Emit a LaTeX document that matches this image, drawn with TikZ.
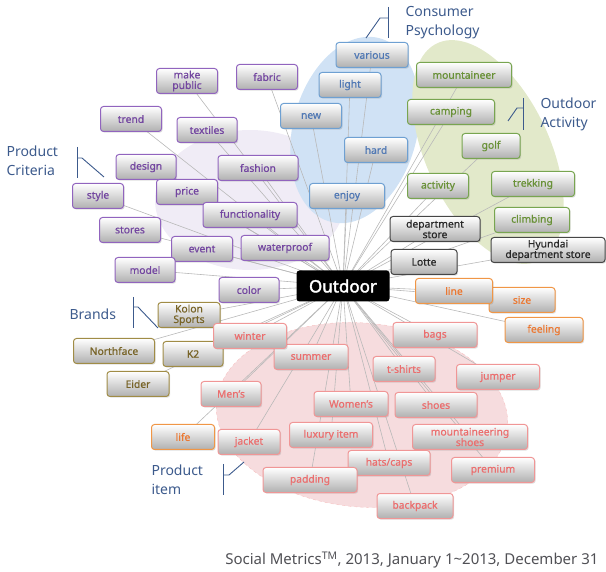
\documentclass[tikz,border=0pt]{standalone}
\usepackage{fontspec}
\setmainfont{Noto Sans}
\newfontfamily\tagfont{Noto Sans}[FakeBold=0.7]
\newfontfamily\hubfont{Noto Sans}[FakeBold=2.2]
\usetikzlibrary{shadows}
\definecolor{purpb}{RGB}{145,100,190}
\definecolor{purpt}{RGB}{115,70,160}
\definecolor{blueb}{RGB}{110,160,210}
\definecolor{bluet}{RGB}{80,120,180}
\definecolor{greenb}{RGB}{120,165,80}
\definecolor{greent}{RGB}{105,145,55}
\definecolor{oliveb}{RGB}{160,140,70}
\definecolor{olivet}{RGB}{120,100,40}
\definecolor{darkb}{RGB}{70,70,70}
\definecolor{darkt}{RGB}{40,40,40}
\definecolor{orangeb}{RGB}{240,150,70}
\definecolor{oranget}{RGB}{235,120,50}
\definecolor{pinkb}{RGB}{240,150,150}
\definecolor{pinkt}{RGB}{235,110,110}
\definecolor{labc}{RGB}{60,90,140}
\definecolor{footc}{RGB}{80,80,85}
\definecolor{blobblue}{RGB}{208,226,245}
\definecolor{blobgreen}{RGB}{226,233,202}
\definecolor{blobpink}{RGB}{246,220,222}
\definecolor{blobpurp}{RGB}{240,236,246}
\pgfdeclarelayer{blobs}
\pgfdeclarelayer{spokes}
\pgfsetlayers{blobs,spokes,main}
\begin{document}
\begin{tikzpicture}[x=1pt,y=-1pt,
	tag/.style={rounded corners=3pt,line width=1pt,top color=white,bottom color=gray!62,
		minimum height=25pt,inner sep=1pt,align=center,
		font=\tagfont\fontsize{10.3}{10.5}\selectfont,
		drop shadow={opacity=0.25,shadow xshift=1.2pt,shadow yshift=-1.2pt}},
	pc/.style={tag,draw=purpb,text=purpt},
	bc/.style={tag,draw=blueb,text=bluet},
	gc/.style={tag,draw=greenb,text=greent},
	yc/.style={tag,draw=oliveb,text=olivet},
	kc/.style={tag,draw=darkb,text=darkt},
	oc/.style={tag,draw=orangeb,text=oranget},
	rc/.style={tag,draw=pinkb,text=pinkt},
	hub/.style={rounded corners=3pt,fill=black,text=white,minimum width=93pt,minimum height=31pt,
		font=\hubfont\fontsize{17}{17}\selectfont},
	spoke/.style={draw=gray!55,line width=0.6pt},
	brk/.style={draw=labc,line width=0.9pt},
	cat/.style={text=labc,anchor=west,align=left,font=\fontsize{14}{19}\selectfont}]
	\useasboundingbox (0,0) rectangle (606,572);

	\begin{pgfonlayer}{blobs}
	\fill[blobpurp] (250,200) ellipse [x radius=95,y radius=70];
	\fill[blobblue,rotate around={-15:(355,130)}] (355,130) ellipse [x radius=62,y radius=95];
	\fill[blobgreen,rotate around={25:(488,152)}] (488,152) ellipse [x radius=62,y radius=120];
	\fill[blobpink,rotate around={-5:(362,415)}] (362,415) ellipse [x radius=146,y radius=92];
	\draw[pinkb!60,dashed,rotate around={-5:(362,415)}] (362,415) ellipse [x radius=146,y radius=92];
	\end{pgfonlayer}

	\node[hub] (out) at (343,286) {Outdoor};

	\node[pc,minimum width=61pt] (makepublic) at (187,81) {make\\public};
	\node[pc,minimum width=61pt] (fabric) at (267,77) {fabric};
	\node[pc,minimum width=61pt] (trend) at (131,119) {trend};
	\node[pc,minimum width=60pt] (textiles) at (207,130) {textiles};
	\node[pc,minimum width=60pt] (design) at (146,167) {design};
	\node[pc,minimum width=80pt] (fashion) at (258,168) {fashion};
	\node[pc,minimum width=51pt] (style) at (98,196) {style};
	\node[pc,minimum width=61pt] (price) at (187,192) {price};
	\node[pc,minimum width=94pt] (functionality) at (250,215) {functionality};
	\node[pc,minimum width=61pt] (stores) at (130,230) {stores};
	\node[pc,minimum width=61pt] (event) at (202,249) {event};
	\node[pc,minimum width=88pt] (waterproof) at (285,248) {waterproof};
	\node[pc,minimum width=60pt] (model) at (145,270) {model};
	\node[pc,minimum width=60pt] (color) at (249,290) {color};

	\node[bc,minimum width=72pt] (various) at (372,55) {various};
	\node[bc,minimum width=62pt] (light) at (350,85) {light};
	\node[bc,minimum width=61pt] (new) at (311,116) {new};
	\node[bc,minimum width=63pt] (hard) at (376,150) {hard};
	\node[bc,minimum width=75pt] (enjoy) at (347,196) {enjoy};

	\node[gc,minimum width=95pt] (mountaineer) at (464,75) {mountaineer};
	\node[gc,minimum width=87pt] (camping) at (451,112) {camping};
	\node[gc,minimum width=58pt] (golf) at (491,146) {golf};
	\node[gc,minimum width=61pt] (activity) at (438,186) {activity};
	\node[gc,minimum width=83pt] (trekking) at (533,184) {trekking};
	\node[gc,minimum width=75pt] (climbing) at (532,220) {climbing};

	\node[kc,minimum width=90pt] (deptstore) at (435,229) {department\\store};
	\node[kc,minimum width=114pt] (hyundai) at (548,250) {Hyundai\\department store};
	\node[kc,minimum width=66pt] (lotte) at (424,262) {Lotte};

	\node[oc,minimum width=66pt] (size) at (522,300) {size};
	\node[oc,minimum width=77pt] (line) at (454,291) {line};
	\node[oc,minimum width=78pt] (feeling) at (544,330) {feeling};
	\node[oc,minimum width=63pt] (life) at (183,437) {life};

	\node[yc,minimum width=62pt] (kolon) at (189,315) {Kolon\\Sports};
	\node[yc,minimum width=81pt] (northface) at (114,351) {Northface};
	\node[yc,minimum width=60pt] (ktwo) at (193,354) {K2};
	\node[yc,minimum width=62pt] (eider) at (138,384) {Eider};

	\node[rc,minimum width=74pt] (summer) at (311,357) {summer};
	\node[rc,minimum width=73pt] (winter) at (250,336) {winter};
	\node[rc,minimum width=84pt] (bags) at (435,335) {bags};
	\node[rc,minimum width=62pt] (tshirts) at (404,369) {t-shirts};
	\node[rc,minimum width=83pt] (jumper) at (498,377) {jumper};
	\node[rc,minimum width=60pt] (mens) at (231,394) {Men’s};
	\node[rc,minimum width=74pt] (womens) at (351,404) {Women’s};
	\node[rc,minimum width=82pt] (shoes) at (436,405) {shoes};
	\node[rc,minimum width=62pt] (jacket) at (249,442) {jacket};
	\node[rc,minimum width=83pt] (luxury) at (331,435) {luxury item};
	\node[rc,minimum width=115pt] (mshoes) at (470,437) {mountaineering\\shoes};
	\node[rc,minimum width=82pt] (hatscaps) at (389,463) {hats/caps};
	\node[rc,minimum width=83pt] (premium) at (493,470) {premium};
	\node[rc,minimum width=94pt] (padding) at (310,480) {padding};
	\node[rc,minimum width=76pt] (backpack) at (415,506) {backpack};

	\begin{pgfonlayer}{spokes}
	\foreach \n in {makepublic,fabric,trend,textiles,design,fashion,style,price,functionality,
		stores,event,waterproof,model,color,various,light,new,hard,enjoy,
		mountaineer,camping,golf,activity,trekking,climbing,deptstore,hyundai,lotte,
		size,line,feeling,life,kolon,northface,ktwo,eider,
		summer,winter,bags,tshirts,jumper,mens,womens,shoes,jacket,luxury,mshoes,
		hatscaps,premium,padding,backpack}
		\draw[spoke] (out.center) -- (\n.center);
	\end{pgfonlayer}

	\node[cat] (lblcons) at (402,23) {Consumer\\Psychology};
	\draw[brk] (388,7) -- (388,38);
	\draw[brk] (366,38) -- (380,18) -- (388,18);
	\node[cat] (lblact) at (537,114) {Outdoor\\Activity};
	\draw[brk] (523,98) -- (523,130);
	\draw[brk] (508,121) -- (517,108) -- (523,108);
	\node[cat] (lblcrit) at (3,161) {Product\\Criteria};
	\draw[brk] (77,147) -- (77,178);
	\draw[brk] (77,158) -- (82,158) -- (104,177);
	\node[cat] (lblbrand) at (66,314) {Brands};
	\draw[brk] (133,297) -- (133,328);
	\draw[brk] (133,307) -- (138,307) -- (158,328);
	\node[cat] (lblitem) at (148,480) {Product\\item};
	\draw[brk] (223,464) -- (223,495);
	\draw[brk] (223,475) -- (229,475) -- (244,462);

	\node[anchor=east,text=footc,font=\fontsize{15}{15}\selectfont] (foot) at (602,560)
		{Social Metrics\textsuperscript{TM}, 2013, January 1\textasciitilde 2013, December 31};
\end{tikzpicture}
\end{document}
